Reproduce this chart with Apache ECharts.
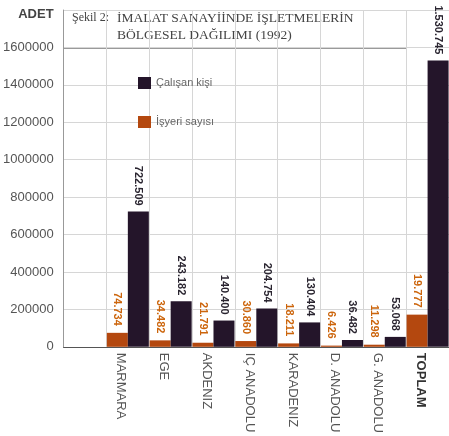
<!DOCTYPE html>
<html>
<head>
<meta charset="utf-8">
<script src="https://cdn.jsdelivr.net/npm/echarts@6/dist/echarts.min.js"></script>
<style>
html,body{margin:0;padding:0;background:#fff;}
#chart{width:449px;height:436px;}
</style>
</head>
<body>
<div id="chart"></div>
<script>
// ---- data ----
const categories = ['MARMARA', 'EGE', 'AKDENIZ', 'IÇ ANADOLU', 'KARADENIZ', 'D. ANADOLU', 'G. ANADOLU', 'TOPLAM'];
const calisanKisi = [722509, 243182, 140400, 204754, 130404, 36482, 53068, 1530745];
const isyeriSayisi = [74734, 34482, 21791, 30860, 18211, 6426, 11298, 172000];
const calisanLabels = ['722.509', '243.182', '140.400', '204.754', '130.404', '36.482', '53.068', '1.530.745'];
const isyeriLabels = ['74.734', '34.482', '21.791', '30.860', '18.211', '6.426', '11.298', '19.777'];
const yTicks = [0, 200000, 400000, 600000, 800000, 1000000, 1200000, 1400000, 1600000];
const titleLine0 = 'Şekil 2:';
const titleLine1 = 'İMALAT SANAYİİNDE İŞLETMELERİN';
const titleLine2 = 'BÖLGESEL DAĞILIMI (1992)';
const yName = 'ADET';
const seriesNames = ['Çalışan kişi', 'İşyeri sayısı'];

const DARK = '#24152a';
const ORANGE = '#b4480f';

const chart = echarts.init(document.getElementById('chart'), null, {renderer: 'canvas'});

const xData = [''].concat(categories).map(c => c === 'TOPLAM'
  ? {value: c, textStyle: {fontWeight: 'bold', color: '#333'}}
  : c);

function labelFrom(arr) {
  return p => (p.dataIndex > 0 ? arr[p.dataIndex - 1] : '');
}

const option = {
  backgroundColor: '#fff',
  animation: false,
  grid: {left: 63, right: 0, top: 10, bottom: 89, containLabel: false},
  legend: {
    data: [seriesNames[0], seriesNames[1]],
    orient: 'vertical',
    left: 133, top: 72,
    itemWidth: 13, itemHeight: 12, itemGap: 27,
    icon: 'rect',
    textStyle: {fontSize: 11, color: '#666', fontFamily: 'Liberation Sans, Arial, sans-serif'}
  },
  xAxis: {
    type: 'category',
    data: xData,
    axisLine: {lineStyle: {color: '#555', width: 1.2}},
    axisTick: {show: false},
    splitLine: {show: true, interval: 0, lineStyle: {color: '#d6d6d6'}},
    axisLabel: {
      interval: 0, rotate: -90, margin: 6,
      fontSize: 13, color: '#555', lineHeight: 14,
      fontFamily: 'Liberation Sans, Arial, sans-serif',
      formatter: v => (v ? ' \n' + v : '')
    }
  },
  yAxis: {
    type: 'value',
    min: 0, max: 1800000, interval: 200000,
    name: yName,
    nameLocation: 'end',
    nameGap: -4,
    nameTextStyle: {
      fontSize: 13, fontWeight: 'bold', color: '#444',
      fontFamily: 'Liberation Sans, Arial, sans-serif',
      align: 'right', verticalAlign: 'middle', padding: [0, 10, 0, 0]
    },
    axisLine: {show: true, lineStyle: {color: '#999'}},
    axisTick: {show: false},
    splitLine: {lineStyle: {color: '#d6d6d6'}},
    axisLabel: {
      margin: 10, fontSize: 13, color: '#555',
      fontFamily: 'Liberation Sans, Arial, sans-serif',
      formatter: v => (yTicks.indexOf(v) >= 0 ? String(v) : '')
    }
  },
  series: [
    {
      name: seriesNames[1],
      type: 'bar',
      barWidth: 21,
      barGap: '0%',
      itemStyle: {color: ORANGE},
      data: [null].concat(isyeriSayisi),
      label: {
        show: true, position: 'top', rotate: -90,
        align: 'right', verticalAlign: 'middle', distance: 7,
        fontSize: 11, fontWeight: 'bold', color: '#cc650c',
        fontFamily: 'Liberation Sans, Arial, sans-serif',
        formatter: labelFrom(isyeriLabels)
      }
    },
    {
      name: seriesNames[0],
      type: 'bar',
      barWidth: 21,
      barGap: '0%',
      itemStyle: {color: DARK},
      data: [null].concat(calisanKisi),
      label: {
        show: true, position: 'top', rotate: -90,
        align: 'right', verticalAlign: 'middle', distance: 6,
        fontSize: 11, fontWeight: 'bold', color: '#2a2530',
        fontFamily: 'Liberation Sans, Arial, sans-serif',
        formatter: labelFrom(calisanLabels)
      }
    }
  ],
  graphic: [
    {
      type: 'group', z: 100,
      children: [
        {type: 'rect', shape: {x: 63.5, y: 10.5, width: 343, height: 38},
         style: {fill: '#fff', stroke: '#9a9a9a', lineWidth: 1}},
        {type: 'text', x: 72, y: 18,
         style: {text: titleLine0, fill: '#444', fontSize: 12, fontFamily: 'Liberation Serif, Times New Roman, serif', textVerticalAlign: 'middle'}},
        {type: 'text', x: 117, y: 18,
         style: {text: titleLine1, fill: '#444', fontSize: 13.5, fontFamily: 'Liberation Serif, Times New Roman, serif', textVerticalAlign: 'middle'}},
        {type: 'text', x: 117, y: 35,
         style: {text: titleLine2, fill: '#444', fontSize: 13.5, fontFamily: 'Liberation Serif, Times New Roman, serif', textVerticalAlign: 'middle'}}
      ]
    }
  ]
};
chart.setOption(option);
</script>
</body>
</html>
